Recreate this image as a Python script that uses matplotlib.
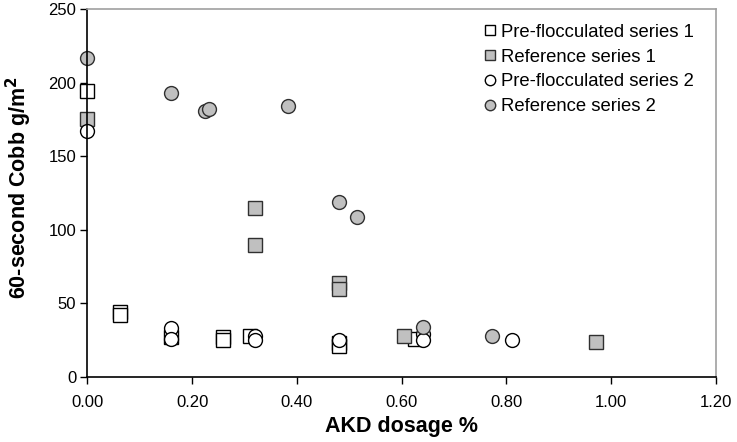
import matplotlib
matplotlib.use("Agg")
import matplotlib.pyplot as plt

plt.rcParams['font.family'] = ['Liberation Sans', 'DejaVu Sans']

# AKD dosage (%) vs 60-second Cobb (g/m2)
pf1_x = [0.0, 0.063, 0.063, 0.16, 0.258, 0.258, 0.31, 0.48, 0.48, 0.625]
pf1_y = [194, 44, 42, 27, 27, 25, 28, 23, 21, 26]

ref1_x = [0.0, 0.32, 0.32, 0.48, 0.48, 0.605, 0.97]
ref1_y = [175, 115, 90, 64, 60, 28, 24]

pf2_x = [0.0, 0.16, 0.16, 0.32, 0.32, 0.48, 0.64, 0.64, 0.81]
pf2_y = [167, 33, 26, 28, 25, 25, 29, 25, 25]

ref2_x = [0.0, 0.16, 0.224, 0.232, 0.382, 0.48, 0.515, 0.64, 0.773]
ref2_y = [217, 193, 181, 182, 184, 119, 109, 34, 28]

labels = ['Pre-flocculated series 1', 'Reference series 1',
          'Pre-flocculated series 2', 'Reference series 2']
x_ticks = [0.0, 0.2, 0.4, 0.6, 0.8, 1.0, 1.2]
y_ticks = [0, 50, 100, 150, 200, 250]

fig = plt.figure(figsize=(7.37, 4.42), dpi=100)
ax = fig.add_axes([0.1187, 0.147, 0.8528, 0.8326])

gray = '#c0c0c0'
edge = '#303030'
ms = 9.5
ax.plot(pf1_x, pf1_y, 's', ms=ms, mfc='white', mec='black', mew=1.0, label=labels[0], clip_on=False)
ax.plot(ref1_x, ref1_y, 's', ms=ms, mfc=gray, mec=edge, mew=1.0, label=labels[1], clip_on=False)
ax.plot(pf2_x, pf2_y, 'o', ms=ms + 0.5, mfc='white', mec='black', mew=1.0, label=labels[2], clip_on=False)
ax.plot(ref2_x, ref2_y, 'o', ms=ms + 0.5, mfc=gray, mec=edge, mew=1.0, label=labels[3], clip_on=False)

ax.set_xlim(0, 1.2)
ax.set_ylim(0, 250)
ax.set_xticks(x_ticks)
ax.set_xticklabels([f'{v:.2f}' for v in x_ticks])
ax.set_yticks(y_ticks)
ax.tick_params(axis='both', direction='out', length=5, width=1, labelsize=12, colors='black')
ax.tick_params(axis='x', pad=8)
ax.tick_params(axis='y', pad=3)

for s in ['left', 'bottom']:
    ax.spines[s].set_color('black')
    ax.spines[s].set_linewidth(1.2)
for s in ['top', 'right']:
    ax.spines[s].set_color('#a0a0a0')
    ax.spines[s].set_linewidth(1.2)

ax.set_xlabel('AKD dosage %', fontsize=15.5, fontweight='bold', labelpad=4)
ax.set_ylabel('60-second Cobb g/m$^\\mathbf{2}$', fontsize=15.5, fontweight='bold')
ax.yaxis.set_label_coords(-0.085, 0.515)

leg = ax.legend(loc='upper right', bbox_to_anchor=(0.983, 0.99), frameon=False,
                fontsize=13.3, markerscale=0.75, handlelength=0.6, handletextpad=0.3,
                labelspacing=0.42, borderaxespad=0.2)

fig.savefig('out.png', dpi=100)
